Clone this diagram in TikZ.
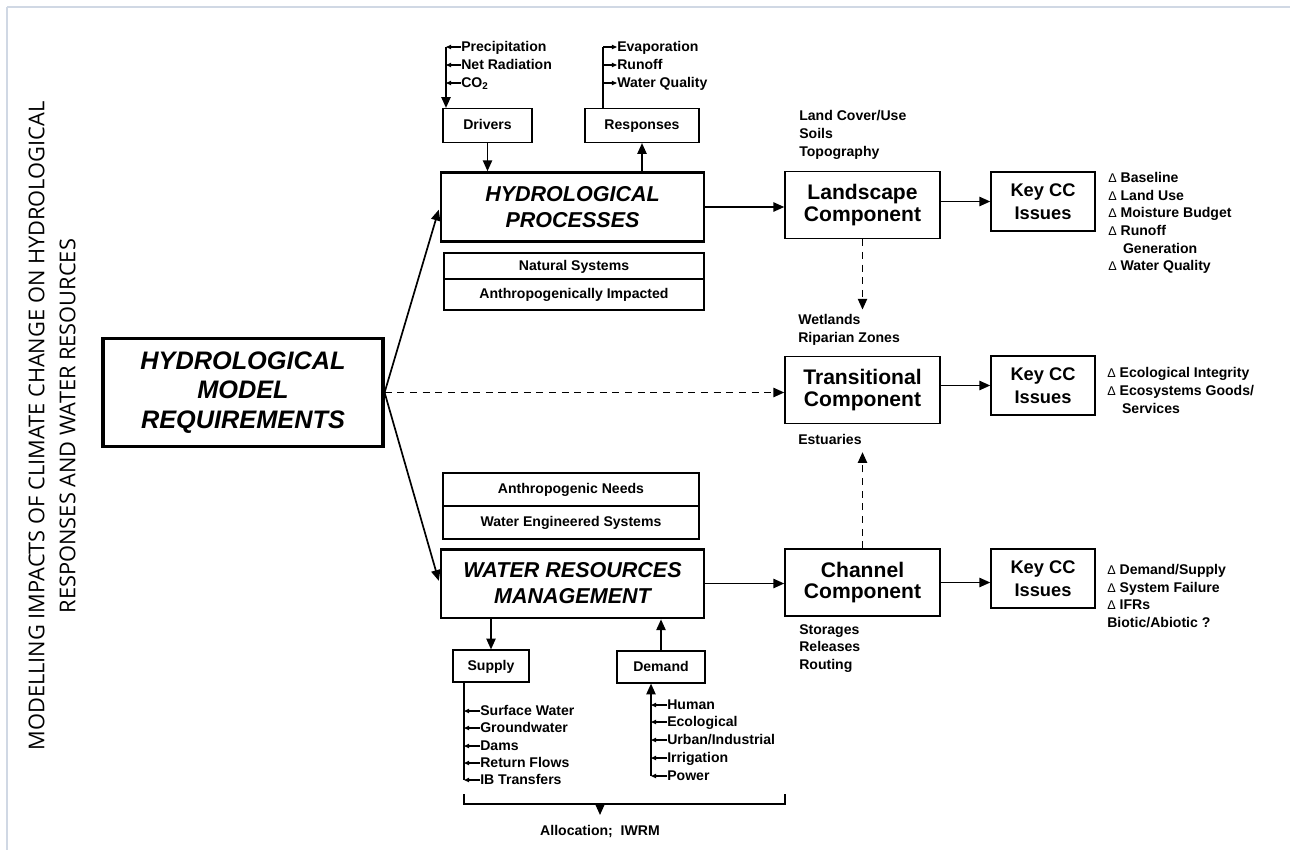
\documentclass[tikz,border=0pt]{standalone}
\usepackage{fontspec}
\setmainfont{Liberation Sans}
\newfontfamily\hmtitlefont{Open Sans}
\usepackage{xcolor}
\usepackage{tikz}
\usetikzlibrary{arrows.meta,positioning}
\definecolor{hmframecol}{RGB}{208,216,228}
\tikzset{
hmmain/.style={rectangle,draw,line width=2.2pt,align=center,inner sep=0pt,minimum width=7.0cm,minimum height=2.72cm,font=\fontsize{18}{21}\selectfont\bfseries\itshape},
hmproc/.style={rectangle,draw,line width=2pt,align=center,inner sep=0pt,minimum width=6.575cm,minimum height=1.72cm,font=\fontsize{15.3}{18.5}\selectfont\bfseries\itshape},
hmcomp/.style={rectangle,draw,line width=1pt,align=center,inner sep=0pt,minimum width=3.875cm,minimum height=1.68cm,font=\fontsize{15}{15.5}\selectfont\bfseries},
hmkey/.style={rectangle,draw,line width=1pt,align=center,inner sep=0pt,minimum width=2.6cm,minimum height=1.475cm,font=\fontsize{13}{16}\selectfont\bfseries},
hmcell/.style={rectangle,draw,line width=0.8pt,align=center,inner sep=0pt,text height=1.6ex,text depth=0.45ex,font=\fontsize{10}{12}\selectfont\bfseries},
hmsmall/.style={rectangle,draw,line width=0.8pt,align=center,inner sep=0pt,minimum height=0.85cm,text height=1.6ex,text depth=0.45ex,font=\fontsize{10}{12}\selectfont\bfseries},
hmlist/.style={anchor=west,align=left,inner sep=0pt,font=\fontsize{10}{12.6}\selectfont\bfseries},
hmitem/.style={anchor=west,inner sep=0pt,text height=1.6ex,text depth=0.45ex,font=\fontsize{10}{12}\selectfont\bfseries},
hmtitle/.style={align=center,inner sep=0pt,rotate=90,font=\hmtitlefont\fontsize{15.5}{22}\selectfont},
hmarr/.style={-{Triangle[length=2.7mm,width=2.3mm]},line width=1.2pt},
hmdash/.style={hmarr,dash pattern=on 5pt off 4pt},
hmtick/.style={-{Triangle[length=1.3mm,width=1.1mm]},line width=0.8pt},
hmline/.style={line width=0.9pt},
hmbrace/.style={line width=1.5pt},
hmframe/.style={line width=1pt,draw=hmframecol}
}
\newcommand{\hmdelta}{{\mdseries\fontsize{9}{10}\selectfont Δ}\ }
\begin{document}
\begin{tikzpicture}[
x=0.025cm,
y=-0.025cm
]
\useasboundingbox (0,0) rectangle (1290,850);
\draw[hmframe] (7,7) -- (1290,7);
\draw[hmframe] (7,7) -- (7,850);
\node[hmtitle] (title) at (52,426) {MODELLING IMPACTS OF CLIMATE CHANGE ON HYDROLOGICAL\\RESPONSES AND WATER RESOURCES};
\node[hmmain] (main) at (243,392.5) {HYDROLOGICAL\\MODEL\\REQUIREMENTS};
\node[hmproc] (hp) at (572.5,207) {HYDROLOGICAL\\PROCESSES};
\node[hmcell,minimum width=6.5cm,minimum height=0.65cm] (natsys) at (574,266) {Natural Systems};
\node[hmcell,minimum width=6.5cm,minimum height=0.775cm] (anthimp) at (574,294.5) {Anthropogenically Impacted};
\node[hmcell,minimum width=6.4cm,minimum height=0.825cm] (anthneed) at (571,489.5) {Anthropogenic Needs};
\node[hmcell,minimum width=6.4cm,minimum height=0.825cm] (wateng) at (571,522.5) {Water Engineered Systems};
\node[hmproc] (wrm) at (572.5,583.5) {WATER RESOURCES\\MANAGEMENT};
\node[hmsmall,minimum width=2.225cm] (drivers) at (487.5,125.5) {Drivers};
\node[hmsmall,minimum width=2.85cm] (responses) at (642,125.5) {Responses};
\node[hmsmall,minimum width=1.9cm,minimum height=0.8cm] (supply) at (491,666) {Supply};
\node[hmsmall,minimum width=2.2cm,minimum height=0.8cm] (demand) at (661,667) {Demand};
\node[hmcomp] (land) at (862.5,205) {Landscape\\Component};
\node[hmcomp] (trans) at (862.5,390) {Transitional\\Component};
\node[hmcomp] (chan) at (862.5,582.5) {Channel\\Component};
\node[hmkey] (key1) at (1043,201.5) {Key CC\\Issues};
\node[hmkey] (key2) at (1043,385.5) {Key CC\\Issues};
\node[hmkey] (key3) at (1043,578.5) {Key CC\\Issues};
\node[hmlist] (landlbl) at (799,135) {Land Cover/Use\\Soils\\Topography};
\node[hmlist] (wetl) at (798,329.5) {Wetlands\\Riparian Zones};
\node[hmitem] (estu) at (798,440) {Estuaries};
\node[hmlist] (chanlbl) at (799,648.5) {Storages\\Releases\\Routing};
\node[hmlist] (key1lbl) at (1108,223) {\hmdelta Baseline\\\hmdelta Land Use\\\hmdelta Moisture Budget\\\hmdelta Runoff\\\hspace*{1.05em}Generation\\\hmdelta Water Quality};
\node[hmlist] (key2lbl) at (1107,390.5) {\hmdelta Ecological Integrity\\\hmdelta Ecosystems Goods/\\\hspace*{1.05em}Services};
\node[hmlist] (key3lbl) at (1107,596) {\hmdelta Demand/Supply\\\hmdelta System Failure\\\hmdelta IFRs\\Biotic/Abiotic ?};
\node[hmitem] (precip) at (461,47) {Precipitation};
\node[hmitem] (netrad) at (461,65) {Net Radiation};
\node[hmitem] (co2) at (461,83) {CO\textsubscript{2}};
\node[hmitem] (evap) at (617,47) {Evaporation};
\node[hmitem] (runoff) at (617,65) {Runoff};
\node[hmitem] (wqual) at (617,83) {Water Quality};
\node[hmitem] (surf) at (480,711) {Surface Water};
\node[hmitem] (ground) at (480,728) {Groundwater};
\node[hmitem] (dams) at (480,746) {Dams};
\node[hmitem] (retflow) at (480,763) {Return Flows};
\node[hmitem] (ibtr) at (480,780) {IB Transfers};
\node[hmitem] (human) at (667,705) {Human};
\node[hmitem] (ecol) at (667,722) {Ecological};
\node[hmitem] (urban) at (667,740) {Urban/Industrial};
\node[hmitem] (irrig) at (667,758) {Irrigation};
\node[hmitem] (power) at (667,776) {Power};
\node[hmitem,anchor=center] (alloc) at (600,831) {Allocation;\ \ IWRM};
\coordinate (drvtop) at (446,47);
\coordinate (restop) at (603,47);
\coordinate (supbot) at (464,780);
\coordinate (dembot) at (651,776);
\coordinate (brl) at (464,794);
\coordinate (brr) at (785,794);
\coordinate (brmid) at (600,804);
\coordinate (brtip) at (600,815);
\draw[hmarr,shorten >=2pt] (main.east) -- (hp.west);
\draw[hmarr,shorten >=2pt] (main.east) -- (wrm.west);
\draw[hmdash] (main.east) -- (main.east -| trans.west);
\draw[hmarr] (hp.east) -- (hp.east -| land.west);
\draw[hmarr] (wrm.east) -- (wrm.east -| chan.west);
\draw[hmarr] (key1.west -| land.east) -- (key1.west);
\draw[hmarr] (key2.west -| trans.east) -- (key2.west);
\draw[hmarr] (chan.east) -- (chan.east -| key3.west);
\draw[hmdash,shorten >=3pt] (land.south) -- (land.south |- wetl.north);
\draw[hmdash,shorten >=3pt] (chan.north) -- (chan.north |- estu.south);
\draw[hmarr] (drivers.south) -- (drivers.south |- hp.north);
\draw[hmarr] (hp.north -| responses) -- (responses.south);
\draw[hmarr] (wrm.south -| supply) -- (supply.north);
\draw[hmarr] (demand.north) -- (demand.north |- wrm.south);
\draw[hmarr] (drvtop) -- (drvtop |- drivers.north);
\draw[hmtick] (precip.west) -- (precip.west -| drvtop);
\draw[hmtick] (netrad.west) -- (netrad.west -| drvtop);
\draw[hmtick] (co2.west) -- (co2.west -| drvtop);
\draw[hmline] (responses.north -| restop) -- (restop);
\draw[hmtick] (restop) -- (evap.west);
\draw[hmtick] (restop |- runoff.west) -- (runoff.west);
\draw[hmtick] (restop |- wqual.west) -- (wqual.west);
\draw[hmline] (supply.south -| supbot) -- (supbot);
\draw[hmtick] (surf.west) -- (surf.west -| supbot);
\draw[hmtick] (ground.west) -- (ground.west -| supbot);
\draw[hmtick] (dams.west) -- (dams.west -| supbot);
\draw[hmtick] (retflow.west) -- (retflow.west -| supbot);
\draw[hmtick] (ibtr.west) -- (ibtr.west -| supbot);
\draw[hmarr] (dembot) -- (dembot |- demand.south);
\draw[hmtick] (human.west) -- (human.west -| dembot);
\draw[hmtick] (ecol.west) -- (ecol.west -| dembot);
\draw[hmtick] (urban.west) -- (urban.west -| dembot);
\draw[hmtick] (irrig.west) -- (irrig.west -| dembot);
\draw[hmtick] (power.west) -- (power.west -| dembot);
\draw[hmbrace] (brl) -- ++(0,10) -| (brr);
\draw[hmarr] (brmid) -- (brtip);
\end{tikzpicture}
\end{document}
